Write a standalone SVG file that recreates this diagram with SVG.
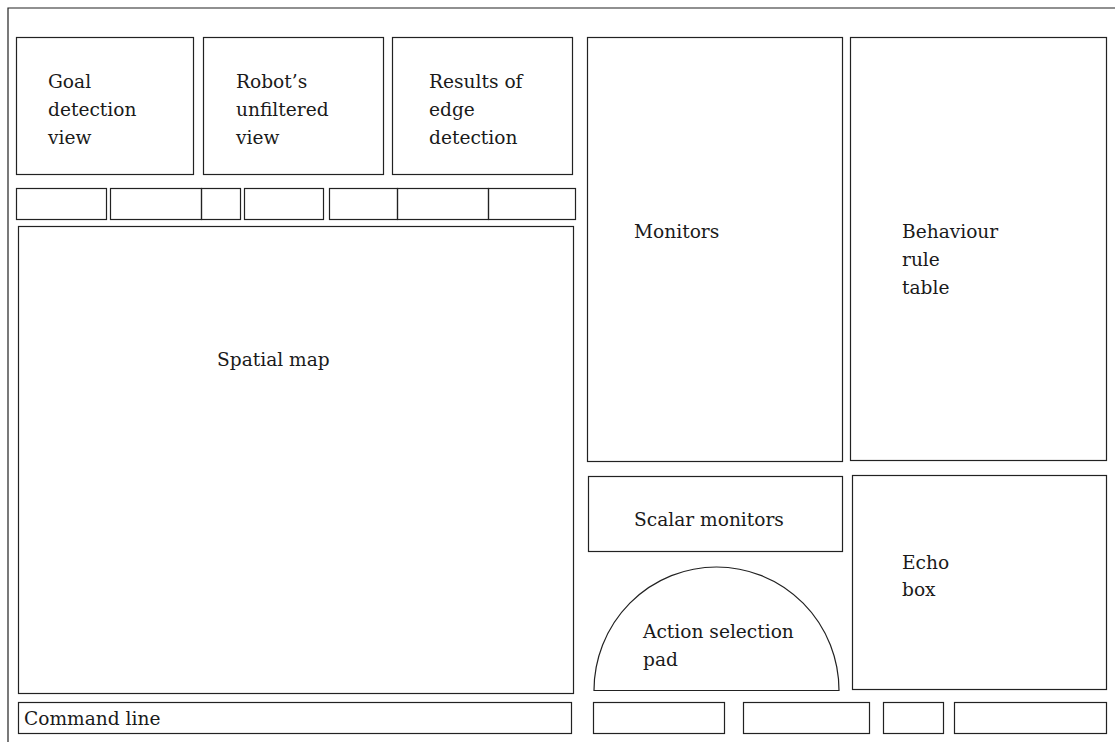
<svg xmlns="http://www.w3.org/2000/svg" width="1115" height="742" viewBox="0 0 1115 742">
<style>
rect, path { fill: none; stroke: #222; stroke-width: 1.2; }
text { font-family: 'DejaVu Serif', serif; font-size: 18.6px; fill: #1a1a1a; }
</style>
<rect x="0" y="0" width="1115" height="742" style="fill:#fff;stroke:none"/>
<path id="frame" d="M8,746 V8 H1120"/>
<g id="goal"><rect x="16.5" y="37.5" width="177" height="137"/><text x="48" y="88">Goal</text><text x="48" y="116">detection</text><text x="48" y="144">view</text></g>
<g id="robot"><rect x="203.5" y="37.5" width="180" height="137"/><text x="236" y="88">Robot’s</text><text x="236" y="116">unfiltered</text><text x="236" y="144">view</text></g>
<g id="edge"><rect x="392.5" y="37.5" width="180" height="137"/><text x="429" y="88">Results of</text><text x="429" y="116">edge</text><text x="429" y="144">detection</text></g>
<g id="monitors"><rect x="587.5" y="37.5" width="255" height="424"/><text x="634" y="238">Monitors</text></g>
<g id="behaviour"><rect x="850.5" y="37.5" width="256" height="423"/><text x="902" y="238">Behaviour</text><text x="902" y="266">rule</text><text x="902" y="294">table</text></g>
<g id="buttons">
<rect x="16.5" y="188.5" width="90" height="31"/>
<rect x="110.5" y="188.5" width="91" height="31"/>
<rect x="201.5" y="188.5" width="39" height="31"/>
<rect x="244.5" y="188.5" width="79" height="31"/>
<rect x="329.5" y="188.5" width="68" height="31"/>
<rect x="397.5" y="188.5" width="91" height="31"/>
<rect x="488.5" y="188.5" width="87" height="31"/>
</g>
<g id="spatial"><rect x="18.5" y="226.5" width="555" height="467"/><text x="217" y="366">Spatial map</text></g>
<g id="scalar"><rect x="588.5" y="476.5" width="254" height="75"/><text x="634" y="526">Scalar monitors</text></g>
<g id="echo"><rect x="852.5" y="475.5" width="254" height="214"/><text x="902" y="569">Echo</text><text x="902" y="596">box</text></g>
<g id="action"><path d="M594,690.5 A122.5,123.5 0 0 1 839,690.5 Z"/><text x="643" y="638">Action selection</text><text x="643" y="666">pad</text></g>
<g id="command"><rect x="18.5" y="702.5" width="553" height="31"/><text x="24" y="725">Command line</text></g>
<g id="bottom">
<rect x="593.5" y="702.5" width="131" height="31"/>
<rect x="743.5" y="702.5" width="126" height="31"/>
<rect x="883.5" y="702.5" width="60" height="31"/>
<rect x="954.5" y="702.5" width="152" height="31"/>
</g>
<g id="connectors"></g>
</svg>
